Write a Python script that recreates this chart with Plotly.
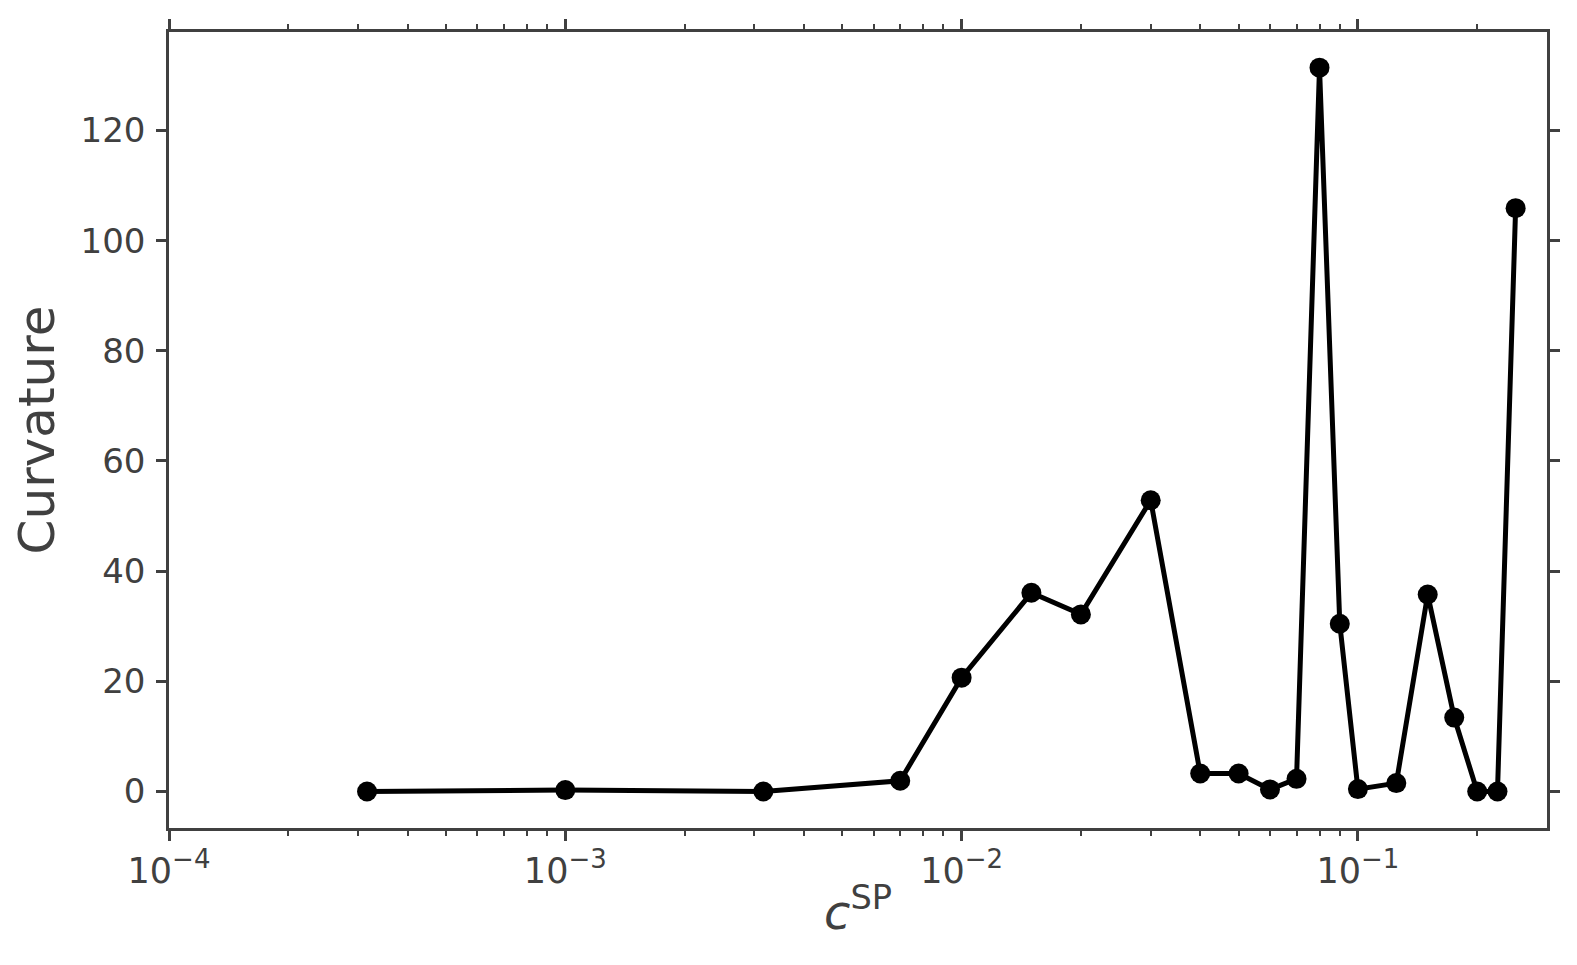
import plotly.graph_objects as go
import math

# Data
c_sp = [0.000316, 0.001, 0.00316, 0.007, 0.01, 0.015, 0.02, 0.03, 0.04, 0.05,
        0.06, 0.07, 0.08, 0.09, 0.1, 0.125, 0.15, 0.175, 0.2, 0.225, 0.25]
curvature = [0.0, 0.25, 0.0, 1.94, 20.66, 36.07, 32.15, 52.87, 3.26, 3.26,
             0.37, 2.3, 131.4, 30.45, 0.43, 1.52, 35.77, 13.42, 0.0, 0.0, 105.9]

x_tick_vals = [1e-4, 1e-3, 1e-2, 1e-1]
x_tick_exps = ["\u22124", "\u22123", "\u22122", "\u22121"]
y_tick_vals = [0, 20, 40, 60, 80, 100, 120]

x_min, x_max = 1e-4, 0.3
y_min, y_max = -6.63, 137.88

AX = "#404040"
FONT = "DejaVu Sans"

x_tick_text = ["10<sup><span style='font-size:26px'>%s</span></sup>" % e for e in x_tick_exps]
minor_vals = [m * 10.0 ** e for e in range(-4, 0) for m in range(2, 10) if m * 10.0 ** e <= x_max]

fig = go.Figure()
fig.add_trace(go.Scatter(
    x=c_sp, y=curvature, mode="lines+markers",
    line=dict(color="black", width=5),
    marker=dict(color="black", size=20),
    showlegend=False,
))

fig.update_layout(
    width=1569, height=957,
    paper_bgcolor="white", plot_bgcolor="white",
    margin=dict(l=161, r=30, t=23.5, b=137, autoexpand=False),
    font=dict(family=FONT, color=AX, size=34),
)

fig.update_xaxes(
    type="log", range=[math.log10(x_min), math.log10(x_max)],
    tickmode="array", tickvals=x_tick_vals, ticktext=x_tick_text,
    ticks="outside", ticklen=10, tickwidth=2.5, tickcolor=AX,
    showline=True, linecolor=AX, linewidth=2.5, mirror="ticks",
    showgrid=False, zeroline=False,
    tickfont=dict(family=FONT, size=35, color=AX),
    minor=dict(tickmode="array", tickvals=minor_vals, ticks="outside",
               ticklen=5.5, tickwidth=1.8, tickcolor=AX, showgrid=False),
    title=dict(text="<i>c</i><sup>SP</sup>", font=dict(family=FONT, size=48, color=AX), standoff=6),
)

fig.update_yaxes(
    range=[y_min, y_max],
    tickmode="array", tickvals=y_tick_vals,
    ticks="outside", ticklen=10, tickwidth=2.5, tickcolor=AX,
    showline=True, linecolor=AX, linewidth=2.5, mirror="ticks",
    showgrid=False, zeroline=False,
    tickfont=dict(family=FONT, size=34, color=AX),
    ticklabelstandoff=4,
    title=dict(text="Curvature", font=dict(family=FONT, size=50, color=AX), standoff=14),
)

fig.write_html("out.html")
